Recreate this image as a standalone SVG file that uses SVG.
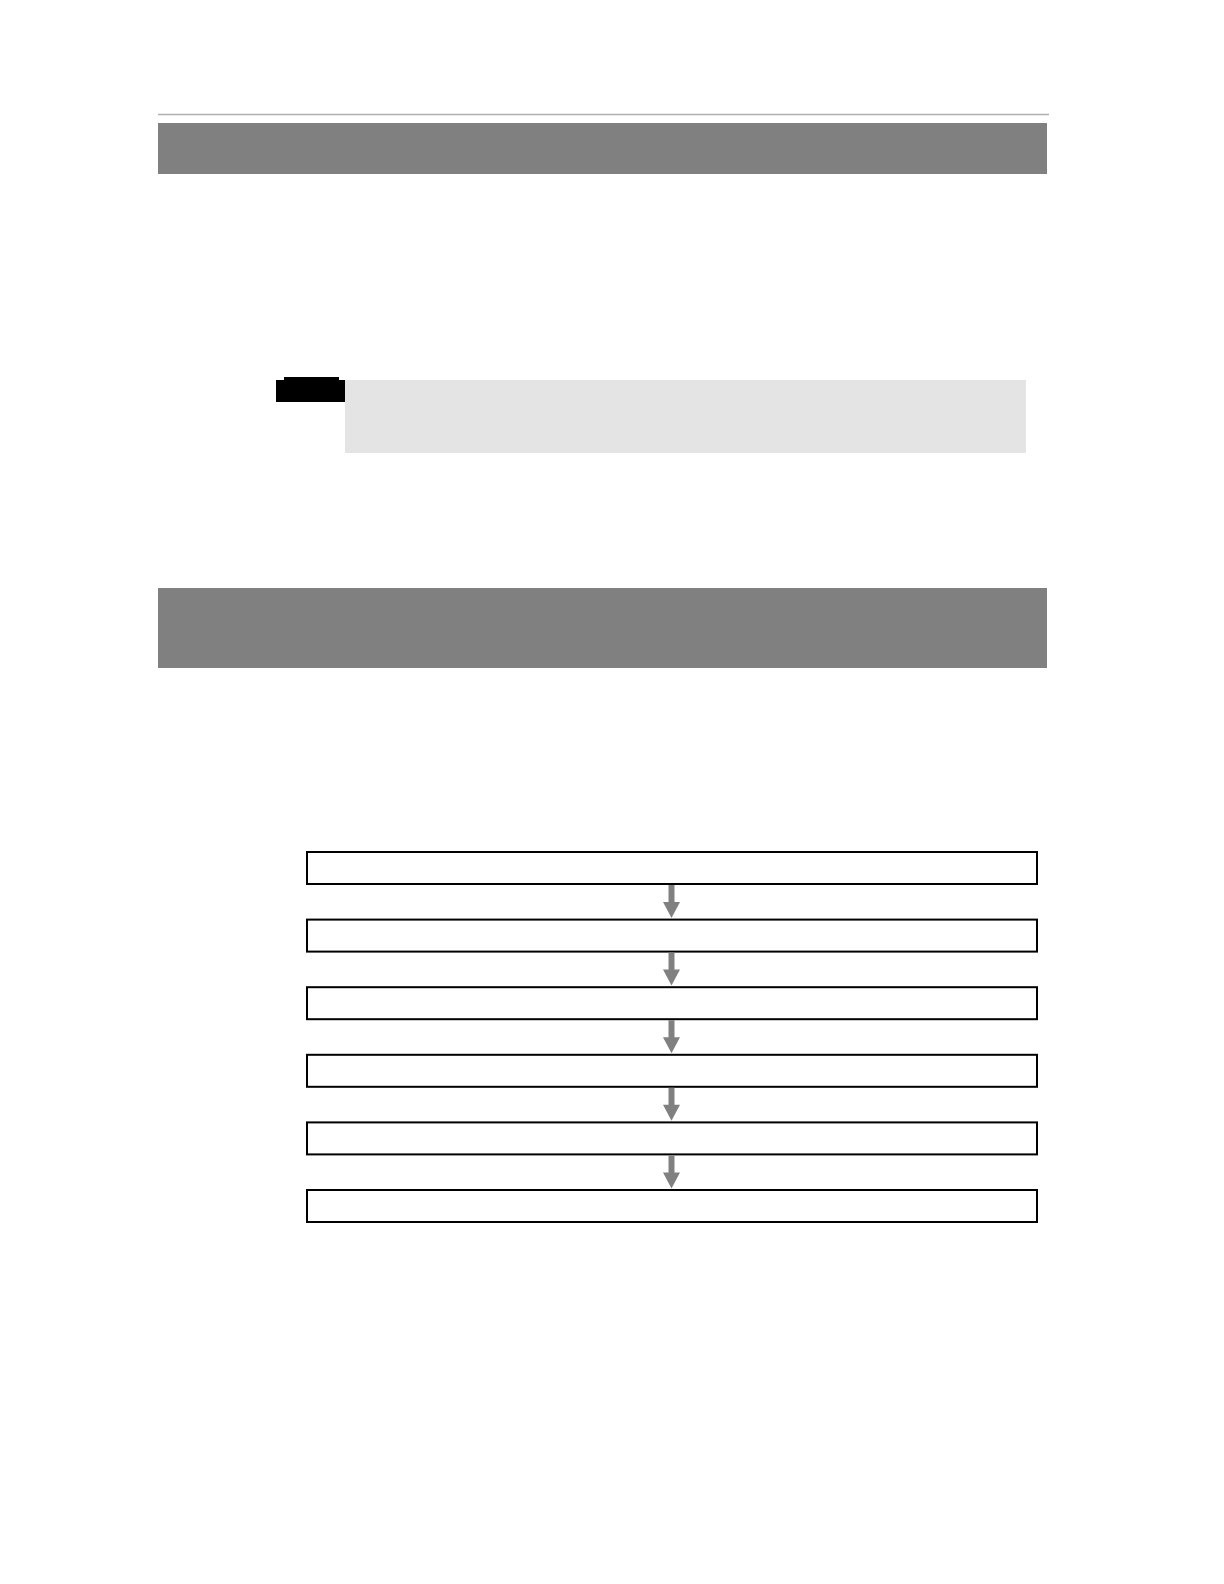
<svg xmlns="http://www.w3.org/2000/svg" width="1224" height="1584" viewBox="0 0 1224 1584">
<style>
.bar{fill:#808080}
.box{fill:#fff;stroke:#000;stroke-width:2}
.shaft{stroke:#808080;stroke-width:6}
.head{fill:#808080}
</style>
<rect width="1224" height="1584" fill="#fff"/>
<g id="header-rule"><line x1="158" y1="114.5" x2="1049" y2="114.5" stroke="#b0b0b0" stroke-width="1.5"/></g>
<g id="title-bar-1"><rect class="bar" x="158" y="123" width="889" height="51"/></g>
<g id="note">
<rect x="276" y="380" width="69" height="22" fill="#000"/>
<rect x="284" y="377" width="55" height="4" fill="#000"/>
<rect x="345" y="380" width="681" height="73" fill="#e4e4e4"/>
</g>
<g id="title-bar-2"><rect class="bar" x="158" y="588" width="889" height="80"/></g>
<g id="step1"><rect class="box" x="307" y="852" width="730" height="32"/></g>
<g id="step2"><rect class="box" x="307" y="919.6" width="730" height="32"/></g>
<g id="step3"><rect class="box" x="307" y="987.2" width="730" height="32"/></g>
<g id="step4"><rect class="box" x="307" y="1054.8" width="730" height="32"/></g>
<g id="step5"><rect class="box" x="307" y="1122.4" width="730" height="32"/></g>
<g id="step6"><rect class="box" x="307" y="1190" width="730" height="32"/></g>
<g id="connectors">
<line class="shaft" x1="671.5" y1="885" x2="671.5" y2="903"/><polygon class="head" points="663,902 680,902 671.5,918"/>
<line class="shaft" x1="671.5" y1="952.6" x2="671.5" y2="970.6"/><polygon class="head" points="663,969.6 680,969.6 671.5,985.6"/>
<line class="shaft" x1="671.5" y1="1020.2" x2="671.5" y2="1038.2"/><polygon class="head" points="663,1037.2 680,1037.2 671.5,1053.2"/>
<line class="shaft" x1="671.5" y1="1087.8" x2="671.5" y2="1105.8"/><polygon class="head" points="663,1104.8 680,1104.8 671.5,1120.8"/>
<line class="shaft" x1="671.5" y1="1155.4" x2="671.5" y2="1173.4"/><polygon class="head" points="663,1172.4 680,1172.4 671.5,1188.4"/>
</g>
</svg>
